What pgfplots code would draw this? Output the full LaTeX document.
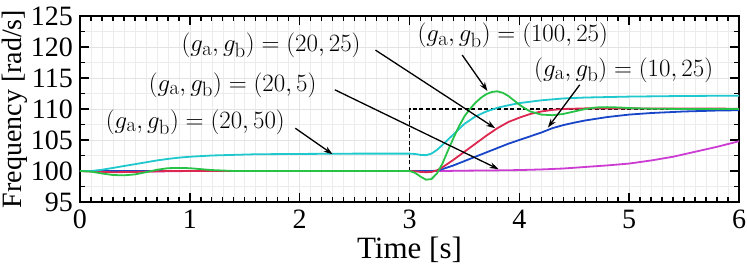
\documentclass[border=0pt]{standalone}
\usepackage[no-math]{fontspec}
\setmainfont{Liberation Serif}
\usepackage{pgfplots}
\pgfplotsset{compat=1.18}
\usetikzlibrary{arrows.meta}
\definecolor{ccyan}{RGB}{30,200,205}
\definecolor{cgreen}{RGB}{40,195,70}
\definecolor{cred}{RGB}{220,40,80}
\definecolor{cblue}{RGB}{25,70,200}
\definecolor{cmag}{RGB}{205,60,210}
\begin{document}
\begin{tikzpicture}
\begin{axis}[
  scale only axis, width=659pt, height=186pt,
  xmin=0, xmax=6, ymin=95, ymax=125,
  xtick={0,1,2,3,4,5,6}, ytick={95,100,...,125},
  minor x tick num=9, minor y tick num=1,
  tick align=inside, major tick length=9pt, minor tick length=5pt,
  tick style={black, line width=1.4pt},
  axis line style={line width=2pt},
  grid=both, minor grid style={gray!15, line width=0.5pt}, major grid style={gray!22, line width=0.5pt},
  /pgf/number format/assume math mode=true,
  ticklabel style={font=\fontsize{28}{30}\selectfont, inner sep=0pt},
  xticklabel style={anchor=north, yshift=-8pt},
  yticklabel style={anchor=east, xshift=-7pt},
  clip=false,
]
\addplot[black, line width=1.4pt, dash pattern=on 4pt off 2.5pt] coordinates {(3,100)(3,110)(6,110)};
\addplot[cmag, line width=1.8pt] coordinates {
(0,100)(0.3,99.85)(0.6,99.9)(1,100)(3.3,100)(3.5,100.05)(3.8,100.1)(4.0,100.15)(4.2,100.25)(4.4,100.4)(4.6,100.65)(4.8,100.9)(5.0,101.2)(5.2,101.7)(5.4,102.3)(5.6,103.1)(5.8,103.9)(6,104.8)};
\addplot[cblue, line width=1.8pt] coordinates {
(0,100)(3.2,100)(3.25,100.05)(3.3,100.3)(3.4,100.9)(3.5,101.6)(3.6,102.3)(3.7,103.0)(3.8,103.7)(3.9,104.4)(4.0,105.0)(4.1,105.6)(4.2,106.2)(4.3,106.9)(4.4,107.4)(4.5,107.8)(4.6,108.15)(4.8,108.7)(5.0,109.1)(5.2,109.35)(5.5,109.6)(5.8,109.75)(6,109.8)};
\addplot[cred, line width=1.8pt] coordinates {
(0,100)(0.3,99.8)(0.5,99.85)(0.8,100)(3.0,100)(3.05,99.95)(3.1,99.85)(3.15,99.8)(3.2,99.85)(3.25,100.1)(3.3,100.6)(3.4,101.8)(3.5,103.1)(3.6,104.4)(3.7,105.7)(3.8,106.9)(3.9,107.9)(4.0,108.6)(4.1,109.2)(4.2,109.6)(4.3,109.85)(4.4,110.0)(4.6,110.1)(5,110.1)(6,110.05)};
\addplot[ccyan, line width=1.8pt] coordinates {
(0,100)(0.1,100)(0.2,100.2)(0.3,100.5)(0.4,100.8)(0.5,101.1)(0.6,101.4)(0.7,101.7)(0.8,101.95)(0.9,102.15)(1.0,102.3)(1.2,102.5)(1.4,102.6)(1.6,102.7)(2.0,102.75)(2.5,102.8)(3.0,102.8)(3.05,102.75)(3.1,102.6)(3.15,102.55)(3.2,102.8)(3.25,103.4)(3.3,104.2)(3.4,105.9)(3.5,107.6)(3.6,108.8)(3.7,109.6)(3.8,110.2)(3.9,110.6)(4.0,110.95)(4.2,111.4)(4.4,111.7)(4.6,111.85)(5.0,112.0)(5.5,112.1)(6,112.15)};
\addplot[cgreen, line width=1.8pt] coordinates {
(0,100)(0.1,99.9)(0.2,99.6)(0.3,99.35)(0.4,99.3)(0.5,99.45)(0.6,99.8)(0.7,100.2)(0.8,100.45)(0.9,100.5)(1.0,100.45)(1.1,100.3)(1.2,100.15)(1.4,100)(3.0,100)(3.05,99.7)(3.1,99.1)(3.15,98.6)(3.2,98.7)(3.25,99.6)(3.3,101.2)(3.35,103.3)(3.4,105.3)(3.45,107.2)(3.5,108.8)(3.55,110.0)(3.6,111.0)(3.65,111.8)(3.7,112.4)(3.75,112.75)(3.8,112.85)(3.85,112.6)(3.9,112.1)(3.95,111.4)(4.0,110.7)(4.05,110.1)(4.1,109.6)(4.2,109.1)(4.3,109.0)(4.4,109.2)(4.5,109.6)(4.6,110.0)(4.7,110.25)(4.8,110.3)(4.9,110.25)(5.0,110.15)(5.2,110.05)(5.5,110)(6,110)};
\tikzset{ann/.style={font=\fontsize{28}{30}\selectfont, inner sep=1pt}, arr/.style={-{Stealth[length=9pt,width=6pt]}, black, line width=1.3pt}}
\node[ann] at (axis cs:1.74,120.3) {$(g_\mathrm{a},g_\mathrm{b})=(20,25)$};
\draw[arr] (axis cs:2.69,119.5) -- (axis cs:3.78,106.9);
\node[ann] at (axis cs:1.39,113.9) {$(g_\mathrm{a},g_\mathrm{b})=(20,5)$};
\draw[arr] (axis cs:2.32,113.1) -- (axis cs:3.81,100.3);
\node[ann] at (axis cs:1.05,107.9) {$(g_\mathrm{a},g_\mathrm{b})=(20,50)$};
\draw[arr] (axis cs:1.96,106.9) -- (axis cs:2.30,102.7);
\node[ann] at (axis cs:3.94,121.9) {$(g_\mathrm{a},g_\mathrm{b})=(100,25)$};
\draw[arr] (axis cs:3.48,118.7) -- (axis cs:3.71,112.9);
\node[ann] at (axis cs:4.95,116.3) {$(g_\mathrm{a},g_\mathrm{b})=(10,25)$};
\draw[arr] (axis cs:4.55,113.9) -- (axis cs:4.26,107.0);
\coordinate (ll) at (rel axis cs:0,0);
\coordinate (ur) at (rel axis cs:1,1);
\coordinate (ym) at (rel axis cs:0,0.5);
\coordinate (xm) at (rel axis cs:0.5,0);
\end{axis}
\node[rotate=90, font=\fontsize{28}{30}\selectfont, inner sep=0pt] at ([xshift=-65pt,yshift=0pt]ym) {Frequency [rad/s]};
\node[font=\fontsize{31}{33}\selectfont, inner sep=0pt] at ([yshift=-48pt]xm) {Time [s]};
\pgfresetboundingbox
\path ([xshift=-80pt,yshift=-62pt]ll) rectangle ([xshift=8pt,yshift=16pt]ur);
\end{tikzpicture}
\end{document}
